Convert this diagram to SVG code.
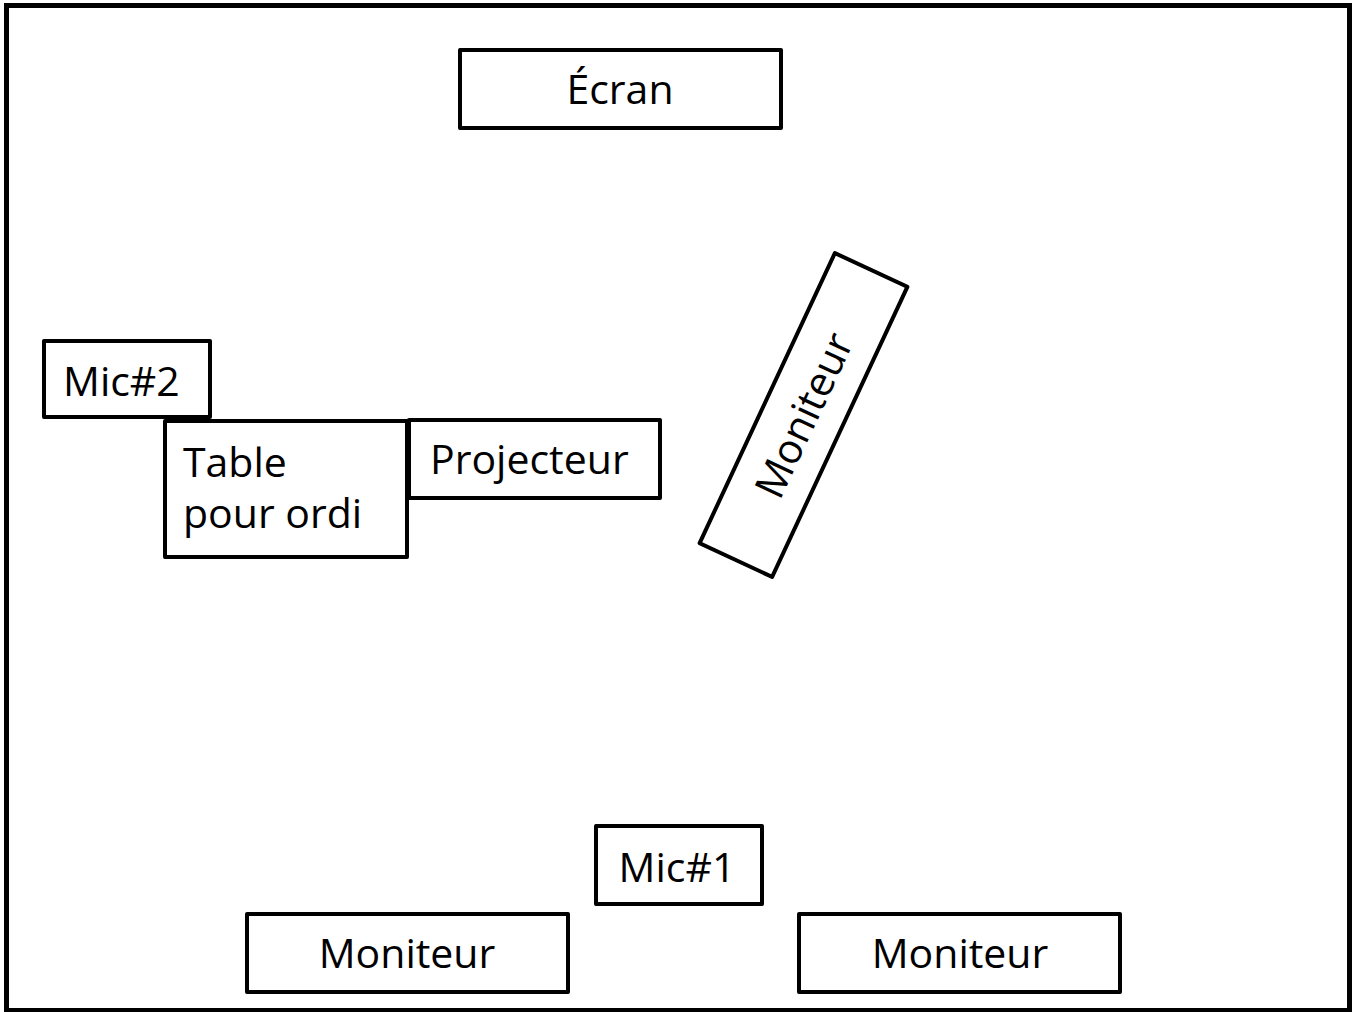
<svg xmlns="http://www.w3.org/2000/svg" width="1359" height="1012" viewBox="0 0 1359 1012">
<style>
.box{fill:#fff;stroke:#000;stroke-width:4;stroke-linejoin:round}
.frame{fill:#fff;stroke:#000;stroke-width:5}
.t{font-family:"Open Sans","Liberation Sans",Arial,sans-serif;font-size:41px;fill:#000}
.c{text-anchor:middle}
</style>
<rect class="frame" x="6.5" y="5.5" width="1343" height="1005"/>
<g id="ecran"><rect class="box" x="460" y="50" width="321" height="78"/><text class="t c" x="620" y="104">Écran</text></g>
<g id="moniteur-rot" transform="translate(803.5 415) rotate(-65)"><rect class="box" x="-160" y="-40" width="320" height="80"/><text class="t c" x="0" y="15">Moniteur</text></g>
<g id="mic2"><rect class="box" x="44" y="341" width="166" height="76"/><text class="t" x="63" y="396">Mic#2</text></g>
<g id="table"><rect class="box" x="165" y="421" width="242" height="136"/><text class="t" x="183" y="477">Table</text><text class="t" x="183" y="528">pour ordi</text></g>
<g id="projecteur"><rect class="box" x="409" y="420" width="251" height="78"/><text class="t" x="430" y="474">Projecteur</text></g>
<g id="mic1"><rect class="box" x="596" y="826" width="166" height="78"/><text class="t c" x="677" y="882">Mic#1</text></g>
<g id="moniteur1"><rect class="box" x="247" y="914" width="321" height="78"/><text class="t c" x="407" y="968">Moniteur</text></g>
<g id="moniteur2"><rect class="box" x="799" y="914" width="321" height="78"/><text class="t c" x="960" y="968">Moniteur</text></g>
<g id="connectors"/>
</svg>
